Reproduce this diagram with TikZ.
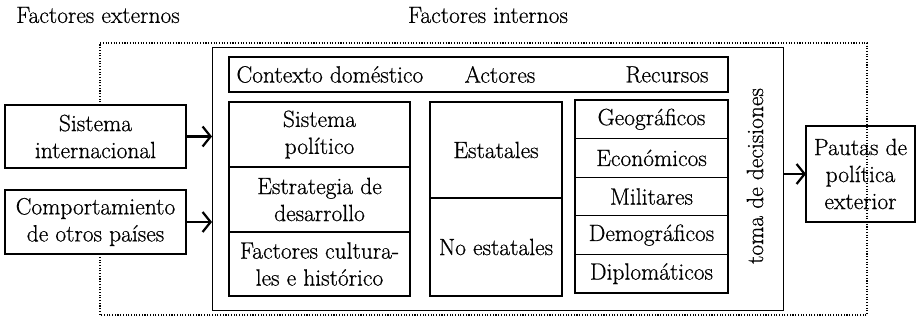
\documentclass[tikz,border=0pt]{standalone}
\usepackage{fontspec}
\newfontfamily\letrafont{Latin Modern Roman}[FakeBold=0.6]
\usetikzlibrary{positioning}
\usetikzlibrary{arrows.meta}

\tikzset{
	letra/.style={font=\letrafont\fontsize{23.5}{27}\selectfont},
	caja/.style={letra, draw, line width=1.3pt, align=center, inner sep=0pt, outer sep=0pt, fill=white},
	flecha/.style={line width=2.2pt, -{Straight Barb[length=8pt, width=20pt]}},
	puntos/.style={line width=1.1pt, dash pattern=on 1.1pt off 1.6pt}
}

\begin{document}
\begin{tikzpicture}[x=1pt, y=-1pt]
		\useasboundingbox (0,0) rectangle (918,321);
		\node[letra] (externos) at (98,15) {Factores externos};
		\node[letra] (internos) at (488,15) {Factores internos};
		% factores externos
		\node[caja, minimum width=181pt, minimum height=63pt] (sisint) at (95.5,136.5) {Sistema\\internacional};
		\node[caja, minimum width=181pt, minimum height=64pt] (comp) at (95.5,222) {Comportamiento\\de otros países};
		% factores internos
		\node[draw, line width=0.9pt, minimum width=571pt, minimum height=263pt, outer sep=0pt] (dominio) at (497.5,178.5) {};
		\node[caja, minimum width=499pt, minimum height=35pt] (ctx) at (478.5,74.5) {};
		\node[letra, anchor=west] (ctxtxt) at (233,74.5) {Contexto doméstico};
		\node[letra] (actores) at (500,74.5) {Actores};
		\node[letra] (recursos) at (667,74.5) {Recursos};
		\node[caja, minimum width=181pt, minimum height=65pt] (polsis) at (319.5,134.5) {Sistema\\político};
		\node[caja, minimum width=181pt, minimum height=65pt, below=0pt of polsis] (estrat) {Estrategia de\\desarrollo};
		\node[caja, minimum width=181pt, minimum height=64pt, below=0pt of estrat] (cultura) {Factores cultura-\\les e histórico};
		\node[caja, minimum width=132pt, minimum height=96pt] (estat) at (496,150) {Estatales};
		\node[caja, minimum width=132pt, minimum height=98pt, below=0pt of estat] (noestat) {No estatales};
		\node[caja, minimum width=153pt, minimum height=38.6pt] (geo) at (651.5,119.3) {Geográficos};
		\node[caja, minimum width=153pt, minimum height=38.6pt, below=0pt of geo] (eco) {Económicos};
		\node[caja, minimum width=153pt, minimum height=38.6pt, below=0pt of eco] (mil) {Militares};
		\node[caja, minimum width=153pt, minimum height=38.6pt, below=0pt of mil] (demo) {Demográficos};
		\node[caja, minimum width=153pt, minimum height=38.6pt, below=0pt of demo] (diplo) {Diplomáticos};
		\node[letra, rotate=90] (toma) at (755,176) {toma de decisiones};
		% resultado
		\node[caja, fill=none, minimum width=109pt, minimum height=96pt] (pautas) at (860.5,174) {Pautas de\\política\\exterior};
		\coordinate (esq1) at (100,43);
		\coordinate (esq2) at (867,315);
		\draw[puntos] (sisint.north -| esq1) -- (esq1) -- (esq1 -| esq2) -- (esq2) -- (esq2 -| esq1) -- (comp.south -| esq1);
		\draw[flecha] (sisint.east) -- (sisint.east -| dominio.west);
		\draw[flecha] (comp.east) -- (comp.east -| dominio.west);
		\draw[flecha] (pautas.west -| dominio.east) -- (pautas.west);
\end{tikzpicture}
\end{document}
